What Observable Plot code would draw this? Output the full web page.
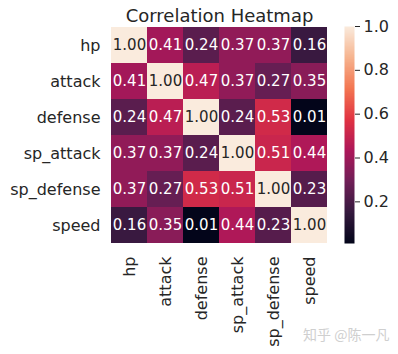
<!DOCTYPE html>
<html>
<head>
<meta charset="utf-8">
<script src="https://cdn.jsdelivr.net/npm/d3@7"></script>
<script src="https://cdn.jsdelivr.net/npm/@observablehq/plot@0.6"></script>
<style>
  html, body { margin: 0; padding: 0; background: #fff; }
  #wrap { position: relative; width: 398px; height: 354px; font-family: "DejaVu Sans", sans-serif; }
  #wrap svg { position: absolute; left: 0; top: 0; }
  #wm { position: absolute; left: 303px; top: 325px; font-family: "Noto Sans CJK SC", sans-serif; font-size: 14px; color: #cfcfcf; white-space: nowrap; line-height: 18px; }
</style>
</head>
<body>
<div id="wrap"><div id="wm">知乎 @陈一凡</div></div>
<script>
const features = ["hp", "attack", "defense", "sp_attack", "sp_defense", "speed"];
const hp        = [1.00, 0.41, 0.24, 0.37, 0.37, 0.16];
const attack    = [0.41, 1.00, 0.47, 0.37, 0.27, 0.35];
const defense   = [0.24, 0.47, 1.00, 0.24, 0.53, 0.01];
const sp_attack = [0.37, 0.37, 0.24, 1.00, 0.51, 0.44];
const sp_defense= [0.37, 0.27, 0.53, 0.51, 1.00, 0.23];
const speed     = [0.16, 0.35, 0.01, 0.44, 0.23, 1.00];
const colorTicks = [0.2, 0.4, 0.6, 0.8, 1.0];
const title = "Correlation Heatmap";

const rows = [hp, attack, defense, sp_attack, sp_defense, speed];
const data = [];
rows.forEach((r, i) => r.forEach((v, j) => data.push({row: features[i], col: features[j], value: v})));

// seaborn "rocket" colormap stops
const rocketStops = ["#03051a", "#35193e", "#701f57", "#ad1759", "#e13342", "#f37651", "#f6b48f", "#faebdd"];
const rocket = d3.piecewise(d3.interpolateRgb, rocketStops);
const vmin = d3.min(data, d => d.value), vmax = d3.max(data, d => d.value);
const colorOpt = {type: "linear", domain: [vmin, vmax], interpolate: rocket};
const ink = "#262626";

const main = Plot.plot({
  width: 398, height: 354,
  marginLeft: 110, marginRight: 70, marginTop: 26, marginBottom: 111,
  style: {fontFamily: "DejaVu Sans", background: "transparent", color: ink},
  x: {domain: features, padding: 0, axis: null},
  y: {domain: features, padding: 0, axis: null},
  color: colorOpt,
  marks: [
    Plot.cell(data, {x: "col", y: "row", fill: "value"}),
    Plot.text(data.filter(d => d.value > 0.8), {x: "col", y: "row", text: d => d.value.toFixed(2), fill: ink, fontSize: 15}),
    Plot.text(data.filter(d => d.value <= 0.8), {x: "col", y: "row", text: d => d.value.toFixed(2), fill: "white", fontSize: 15}),
    Plot.axisY({tickSize: 0, tickPadding: 10, fontSize: 16, fill: ink, label: null}),
    Plot.axisX({anchor: "bottom", tickSize: 0, tickPadding: 13, tickRotate: -90, fontSize: 16, fill: ink, label: null}),
    Plot.text([title], {frameAnchor: "top", lineAnchor: "bottom", dy: -5, fontSize: 18, fill: ink})
  ]
});

const bar = Plot.plot({
  width: 398, height: 354,
  marginLeft: 344, marginRight: 44, marginTop: 26, marginBottom: 111,
  style: {fontFamily: "DejaVu Sans", background: "transparent", color: ink},
  x: {domain: [0, 1], axis: null},
  y: {domain: [vmin, vmax], axis: null},
  color: colorOpt,
  marks: [
    Plot.raster({fill: (x, y) => y, x1: 0, x2: 1, y1: vmin, y2: vmax, width: 2, height: 300, imageRendering: "auto"}),
    Plot.axisY({anchor: "right", ticks: colorTicks, tickFormat: ".1f", tickSize: 5, tickPadding: 4, fontSize: 16, fill: ink, stroke: ink, label: null})
  ]
});

const wrap = document.getElementById("wrap");
wrap.insertBefore(bar, wrap.firstChild);
wrap.insertBefore(main, wrap.firstChild);
</script>
</body>
</html>
